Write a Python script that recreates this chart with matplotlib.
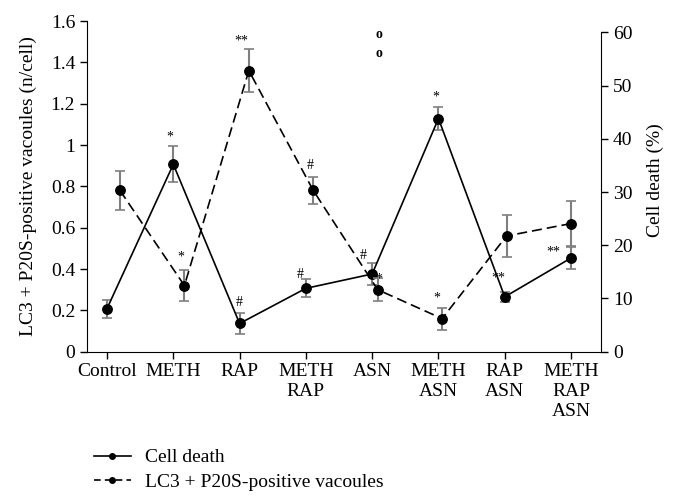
import matplotlib
matplotlib.use("Agg")
import matplotlib.pyplot as plt
from matplotlib.lines import Line2D

plt.rcParams["font.family"] = ["Liberation Serif", "DejaVu Serif"]

# data
groups = ["Control", "METH", "RAP", "METH\nRAP", "ASN",
          "METH\nASN", "RAP\nASN", "METH\nRAP\nASN"]
cell_death = [8.1, 35.2, 5.3, 11.9, 14.6, 43.8, 10.3, 17.6]
cell_death_err = [1.7, 3.4, 1.9, 1.7, 2.0, 2.2, 0.9, 2.1]
vacuoles = [0.78, 0.32, 1.36, 0.78, 0.30, 0.16, 0.56, 0.62]
vacuoles_err = [0.093, 0.073, 0.104, 0.065, 0.055, 0.053, 0.10, 0.107]

# significance marks: (series, group index, text, dx px, dy px)
marks = [
    ("death", 1, "*", -3, 27),
    ("death", 2, "#", 0, 21),
    ("death", 3, "#", -6, 14),
    ("death", 4, "#", -9, 18),
    ("death", 5, "*", -3, 21),
    ("death", 6, "**", -6, 19),
    ("death", 7, "**", -18, 6),
    ("vac", 1, "*", -4, 29),
    ("vac", 2, "**", -8, 30),
    ("vac", 3, "#", -3, 25),
    ("vac", 4, "*", 1, 11),
    ("vac", 5, "*", -5, 21),
]

FS = 14
W, H = 679, 503
fig = plt.figure(figsize=(W / 100, H / 100), dpi=100)
rect = [87 / W, 1 - 351.7 / H, 514 / W, 330.7 / H]
ax = fig.add_axes(rect)
x = list(range(len(groups)))

ax.set_xlim(-0.302, 7.452)
ax.set_ylim(0, 1.6)
ax.set_yticks([0, 0.2, 0.4, 0.6, 0.8, 1.0, 1.2, 1.4, 1.6])
ax.set_yticklabels(["0", "0.2", "0.4", "0.6", "0.8", "1", "1.2", "1.4", "1.6"])
ax.set_xticks(x)
ax.set_xticklabels(groups, linespacing=1.25)
ax.tick_params(labelsize=FS, length=5, width=1, direction="out")
ax.tick_params(axis="x", pad=3)
ax.spines["top"].set_visible(False)
ax.spines["right"].set_visible(False)
ax.set_ylabel("LC3 + P20S-positive vacoules (n/cell)", fontsize=FS, labelpad=10)

# cell death on the right axis (shorter than the left one)
axr = ax.twinx()
axr.set_ylim(0, 60 * 330.7 / 319.4)
axr.set_yticks([0, 10, 20, 30, 40, 50, 60])
axr.spines["right"].set_bounds(0, 60)
for s in ["top", "left", "bottom"]:
    axr.spines[s].set_visible(False)
axr.tick_params(labelsize=FS, length=5, width=1, direction="out")
axr.set_ylabel("Cell death (%)", fontsize=FS)
axr.yaxis.set_label_coords(1.088, 0.52)

axr.errorbar(x, cell_death, yerr=cell_death_err, fmt="none", ecolor="#7f7f7f",
             elinewidth=1.5, capsize=3.5, capthick=1.2, zorder=2)
axr.plot(x, cell_death, "-o", color="black", lw=1.2, ms=6.8, zorder=3)

# vacuoles drawn on an overlay with slightly different x scale (as in original)
axv = fig.add_axes(rect, frameon=False)
axv.set_xlim(-0.512, 7.466)
axv.set_ylim(0, 1.6)
axv.axis("off")
axv.errorbar(x, vacuoles, yerr=vacuoles_err, fmt="none", ecolor="#7f7f7f",
             elinewidth=1.5, capsize=3.5, capthick=1.2, zorder=2)
axv.plot(x, vacuoles, "o", color="black", lw=1.2, ms=6.8, ls=(0, (6, 3)), zorder=3)

for series, i, txt, dx, dy in marks:
    if series == "death":
        axr.annotate(txt, (i, cell_death[i]), xytext=(dx * 0.72, dy * 0.72),
                     textcoords="offset points", ha="center", va="center", fontsize=10)
    else:
        axv.annotate(txt, (i, vacuoles[i]), xytext=(dx * 0.72, dy * 0.72),
                     textcoords="offset points", ha="center", va="center", fontsize=10)

# the two small circles above ASN
for dy in [239, 220]:
    axr.annotate("o", (4, cell_death[4]), xytext=(7 * 0.72, dy * 0.72),
                 textcoords="offset points", ha="center", va="center",
                 fontsize=10, fontweight="bold")

handles = [
    Line2D([], [], color="black", lw=1.2, marker="o", ms=4),
    Line2D([], [], color="black", lw=1.2, marker="o", ms=4, ls=(0, (4, 2.5))),
]
fig.legend(handles, ["Cell death", "LC3 + P20S-positive vacoules"],
           loc="upper left", bbox_to_anchor=(84 / W, 1 - 439 / H), frameon=False,
           fontsize=FS, handlelength=1.9, handletextpad=0.75, labelspacing=0.35,
           borderpad=0)

fig.savefig("out.png", dpi=100)
